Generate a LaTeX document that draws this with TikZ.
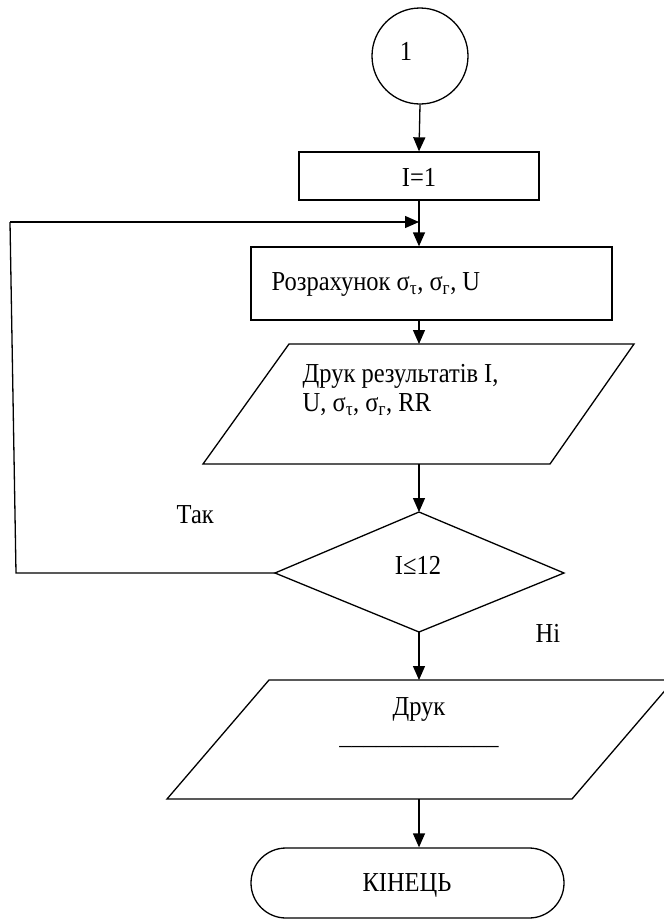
\documentclass[tikz,border=0pt]{standalone}
\usepackage{fontspec}
\setmainfont{Liberation Serif}
\usetikzlibrary{arrows.meta}
\newcommand{\vstr}[1]{\scalebox{1}[1.12]{#1}}
\begin{document}
\begin{tikzpicture}[x=1pt,y=-1pt,
  line width=1.3pt,
  arr/.style={-{Triangle[length=14pt,width=12pt]}},
  txt/.style={inner sep=0pt,font=\fontsize{24.5}{28}\selectfont},
  box/.style={draw,rectangle,inner sep=0pt}]
\useasboundingbox (0,0) rectangle (664,919);
% start connector
\node[draw,circle,minimum size=96pt,inner sep=0pt] (start) at (420,56) {};
\node[txt,anchor=base] (startt) at (406,60) {\vstr{1}};
% I=1
\node[box,minimum width=240pt,minimum height=48pt] (init) at (419,176) {};
\node[txt,anchor=base] (initt) at (419,186) {\vstr{I=1}};
% calc box
\node[box,minimum width=361pt,minimum height=73pt] (calc) at (431.5,283.5) {};
\node[txt,anchor=base west] (calct) at (271,290) {\vstr{Розрахунок σ\textsubscript{τ}, σ\textsubscript{г}, U}};
% print parallelogram
\coordinate (p1tl) at (289,344);
\coordinate (p1tr) at (634,344);
\coordinate (p1br) at (550,464);
\coordinate (p1bl) at (203,464);
\coordinate (p1top) at (419,344);
\coordinate (p1bot) at (419,464);
\draw (p1tl) -- (p1tr) -- (p1br) -- (p1bl) -- cycle;
\node[txt,anchor=base west] (p1a) at (302,382) {\vstr{Друк результатів I,}};
\node[txt,anchor=base west] (p1b) at (302,411) {\vstr{U, σ\textsubscript{τ}, σ\textsubscript{г}, RR}};
% decision
\coordinate (dtop) at (419,512);
\coordinate (dleft) at (275,573);
\coordinate (dright) at (564,573);
\coordinate (dbot) at (419,632);
\draw (dtop) -- (dright) -- (dbot) -- (dleft) -- cycle;
\node[txt,anchor=base] (dt) at (418,574) {\vstr{I≤12}};
\node[txt,anchor=base west] (yes) at (176,523) {\vstr{Так}};
\node[txt,anchor=base west] (no) at (535,642) {\vstr{Ні}};
% second print
\coordinate (p2tl) at (269,680);
\coordinate (p2tr) at (674,680);
\coordinate (p2br) at (572,799);
\coordinate (p2bl) at (167,799);
\coordinate (p2top) at (419,680);
\coordinate (p2bot) at (419,799);
\draw (p2tl) -- (p2tr) -- (p2br) -- (p2bl) -- cycle;
\node[txt,anchor=base] (p2a) at (419,715) {\vstr{Друк}};
\node[txt,anchor=base] (p2b) at (419,744) {\_\_\_\_\_\_\_\_\_\_\_\_\_};
% end terminal
\node[draw,rectangle,rounded corners=35pt,minimum width=313pt,minimum height=70pt,inner sep=0pt] (end) at (407.5,883) {};
\node[txt,anchor=base] (endt) at (407,891) {\vstr{КІНЕЦЬ}};
% connectors
\coordinate (merge) at (419,222);
\coordinate (lbot) at (16,573);
\coordinate (ltop) at (10,222);
\draw[arr] (start.south) -- (init.north);
\draw[arr] (init.south) -- (init.south |- calc.north);
\draw[arr] (calc.south -| p1top) -- (p1top);
\draw[arr] (p1bot) -- (dtop);
\draw (dleft) -- (lbot) -- (ltop);
\draw[arr] (ltop) -- (merge);
\draw[arr] (dbot) -- (p2top);
\draw[arr] (p2bot) -- (p2bot |- end.north);
\end{tikzpicture}
\end{document}
